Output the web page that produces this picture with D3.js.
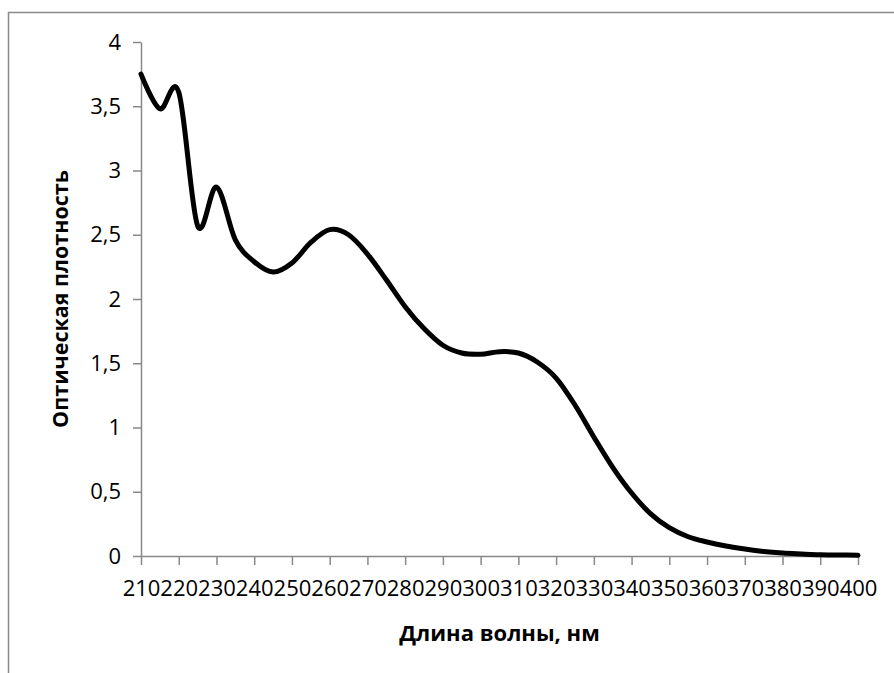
<!DOCTYPE html>
<html>
<head>
<meta charset="utf-8">
<script src="https://cdn.jsdelivr.net/npm/d3@7/dist/d3.min.js"></script>
<style>
  html, body { margin: 0; padding: 0; background: #fff; }
  svg { display: block; }
</style>
</head>
<body>
<svg id="chart" width="894" height="673"></svg>
<script>
// Wavelength (nm)
const wavelengths = [210,215,220,225,230,235,240,245,250,255,260,265,270,275,280,285,290,295,300,305,
                     310,315,320,325,330,335,340,345,350,355,360,365,370,375,380,385,390,395,400];
// Optical density
const density = [3.75,3.48,3.61,2.57,2.87,2.46,2.29,2.21,2.28,2.44,2.54,2.50,2.35,2.15,1.94,1.77,1.64,1.58,1.57,1.59,
                 1.58,1.51,1.385,1.175,0.926,0.69,0.49,0.33,0.22,0.150,0.109,0.078,0.054,0.035,0.023,0.016,0.010,0.008,0.005];
// Tick labels
const xTicks = [210,220,230,240,250,260,270,280,290,300,310,320,330,340,350,360,370,380,390,400];
const yTicks = [0,0.5,1,1.5,2,2.5,3,3.5,4];
const xTitle = "Длина волны, нм";
const yTitle = "Оптическая плотность";

const svg = d3.select("#chart");
const font = "'Open Sans', 'DejaVu Sans', sans-serif";
const axisColor = "#898989";

// outer chart border (only left and top visible)
svg.append("rect")
  .attr("x", 8.5).attr("y", 12.5)
  .attr("width", 1000).attr("height", 1000)
  .attr("fill", "none").attr("stroke", axisColor).attr("stroke-width", 1.5);

const pL = 141, pR = 858, pT = 42, pB = 556;
const x = d3.scaleLinear().domain([210, 400]).range([pL, pR]);
const y = d3.scaleLinear().domain([0, 4]).range([pB, pT]);

const fmt = d => String(d).replace(".", ",");

const gx = svg.append("g")
  .attr("transform", `translate(0,${pB})`)
  .call(d3.axisBottom(x).tickValues(xTicks).tickSize(9).tickSizeOuter(0).tickPadding(15).tickFormat(d => String(d)));
const gy = svg.append("g")
  .attr("transform", `translate(${pL},0)`)
  .call(d3.axisLeft(y).tickValues(yTicks).tickSize(8).tickSizeOuter(0).tickPadding(12).tickFormat(fmt));

[gx, gy].forEach(g => {
  g.select(".domain").attr("stroke", axisColor).attr("stroke-width", 1.5);
  g.selectAll(".tick line").attr("stroke", axisColor).attr("stroke-width", 1.5);
  g.selectAll(".tick text").attr("fill", "#000").style("font-family", font).style("font-size", "22px");
});

// curve
const line = d3.line()
  .x((d, i) => x(wavelengths[i]))
  .y(d => y(d))
  .curve(d3.curveCatmullRom.alpha(0));

svg.append("path")
  .datum(density)
  .attr("d", line)
  .attr("fill", "none")
  .attr("stroke", "#000")
  .attr("stroke-width", 5)
  .attr("stroke-linejoin", "round")
  .attr("stroke-linecap", "round");

// axis titles
svg.append("text")
  .attr("x", (pL + pR) / 2).attr("y", 641)
  .attr("text-anchor", "middle")
  .style("font-family", font).style("font-weight", "bold").style("font-size", "22px")
  .attr("fill", "#000")
  .text(xTitle);

svg.append("text")
  .attr("transform", `translate(68,${(pT + pB) / 2}) rotate(-90)`)
  .attr("text-anchor", "middle")
  .style("font-family", font).style("font-weight", "bold").style("font-size", "21.5px")
  .attr("fill", "#000")
  .text(yTitle);
</script>
</body>
</html>
